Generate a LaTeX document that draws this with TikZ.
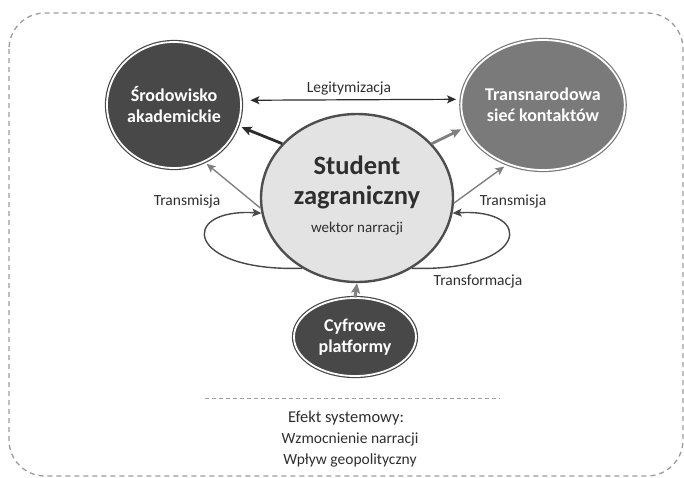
\documentclass[tikz,border=0pt]{standalone}
\usepackage{fontspec}
\setmainfont{Carlito}
\usetikzlibrary{shapes.geometric,arrows.meta}
\definecolor{dk}{HTML}{484848}
\definecolor{md}{HTML}{7A7A7A}
\definecolor{lt}{HTML}{E3E3E3}
\definecolor{txt}{HTML}{2E2E2E}
\definecolor{bord}{HTML}{9C9C9C}
\definecolor{arrdk}{HTML}{2C2C2C}
\definecolor{arrgy}{HTML}{808080}
\definecolor{studline}{HTML}{4E4E4E}
\begin{document}
\begin{tikzpicture}[x=1pt,y=-1pt,
  lbl/.style={font=\fontsize{15.5}{18}\selectfont, text=txt, inner sep=0pt},
  bignode/.style={ellipse, inner sep=0pt, align=center, text=white,
    font=\fontsize{18}{21}\selectfont\bfseries,
    double=white, double distance=1.8pt, line width=1.2pt},
  tip/.style={-{Stealth[length=10pt,width=9pt,inset=2pt]}},
  dkarrow/.style={tip, draw=arrdk, line width=2.8pt},
  gyarrow/.style={tip, draw=arrgy, line width=2.8pt},
  thinline/.style={-{Stealth[length=9pt,width=8pt,inset=2pt]}, draw=arrgy, line width=1.4pt},
  loopline/.style={-{Stealth[length=9pt,width=8pt,inset=2pt]}, draw=dk, line width=1.4pt},
]
\useasboundingbox (0,0) rectangle (684,477);
\draw[bord, line width=1.3pt, dash pattern=on 5pt off 4pt, rounded corners=36pt]
  (9,13) rectangle (683,476);

% nodes
\node[bignode, fill=dk, draw=dk, minimum width=134pt, minimum height=126pt] (sro) at (174,105) {Środowisko\\akademickie};
\node[bignode, fill=md, draw=md, minimum width=136pt, minimum height=130pt] (tra) at (543,105) {Transnarodowa\\sieć kontaktów};
\node[ellipse, fill=lt, draw=studline, line width=2.4pt, minimum width=192pt, minimum height=168pt, inner sep=0pt] (stud) at (357,198) {};
\node[font=\fontsize{26.5}{30}\selectfont\bfseries, text=txt, inner sep=0pt] (st1) at (357,165) {Student};
\node[font=\fontsize{26.5}{30}\selectfont\bfseries, text=txt, inner sep=0pt] (st2) at (357,197) {zagraniczny};
\node[lbl, font=\fontsize{15}{18}\selectfont] (st3) at (357,229) {wektor narracji};
\node[bignode, fill=dk, draw=dk, minimum width=122pt, minimum height=78pt] (cyf) at (355,337) {Cyfrowe\\platformy};

% labels
\node[lbl] (leg) at (349,88) {Legitymizacja};
\node[lbl] (trl) at (187,201) {Transmisja};
\node[lbl] (trr) at (513,201) {Transmisja};
\node[lbl] (tf) at (478,281) {Transformacja};

% connectors
\draw[{Stealth[length=9pt,width=8pt,inset=2pt]}-{Stealth[length=9pt,width=8pt,inset=2pt]}, draw=arrdk, line width=1.2pt, shorten <=9pt, shorten >=5pt] (sro.4) -- (tra.176);
\draw[dkarrow, shorten >=4pt] (stud.144) -- (sro.-18);
\draw[gyarrow, shorten >=5pt] (stud.36) -- (tra.196);
\draw[thinline, shorten >=3pt] (stud.186) -- (sro.-62);
\draw[thinline, shorten >=4pt] (stud.-3) -- (tra.-121);
\draw[loopline] (stud.232) .. controls (185,272) and (178,208) .. (stud.189);
\draw[loopline] (stud.-52) .. controls (529,272) and (536,208) .. (stud.-9);
\draw[gyarrow, line width=3pt] (cyf.north) -- (stud.south);

% bottom summary
\draw[bord, line width=1pt, dash pattern=on 4pt off 3pt] (205,398) -- (500,398);
\node[lbl, font=\fontsize{16.5}{20}\selectfont] (ef) at (346,418) {Efekt systemowy:};
\node[lbl] (wz) at (350,439) {Wzmocnienie narracji};
\node[lbl] (wp) at (350,460) {Wpływ geopolityczny};
\end{tikzpicture}
\end{document}
